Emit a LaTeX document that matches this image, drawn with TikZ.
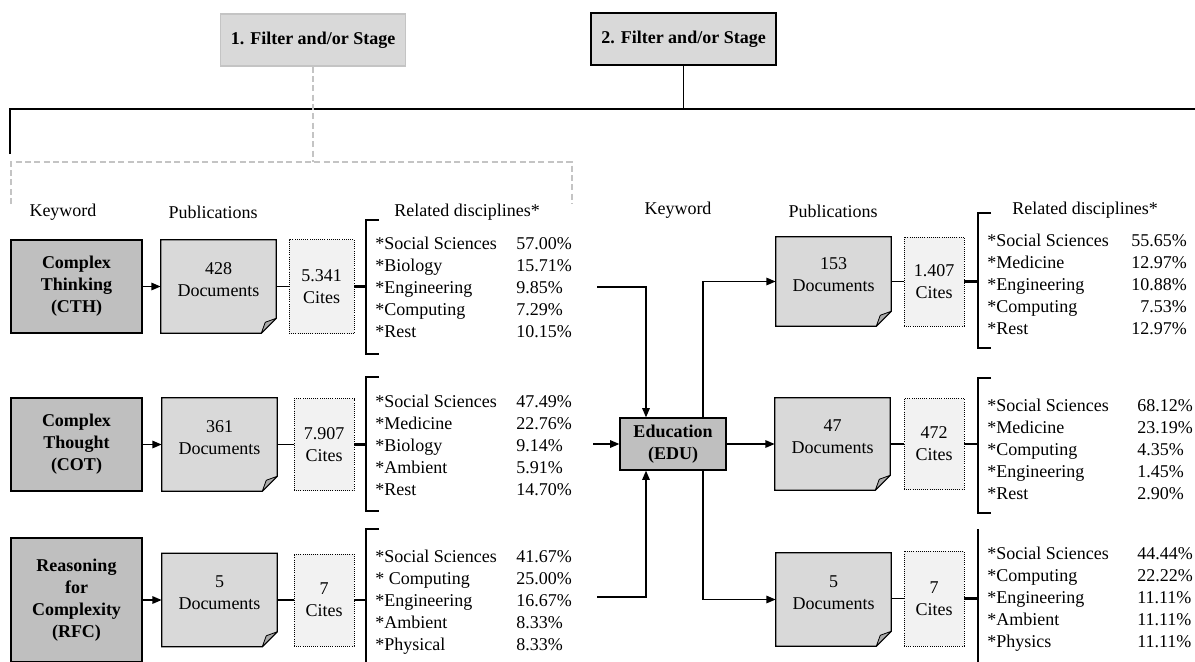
\documentclass[tikz,border=0pt]{standalone}
\usepackage{fontspec}
\setmainfont{Liberation Serif}
\usetikzlibrary{calc,arrows.meta}
\definecolor{keygray}{HTML}{BFBFBF}
\definecolor{docgray}{HTML}{D9D9D9}
\definecolor{citegray}{HTML}{F2F2F2}
\definecolor{foldgray}{HTML}{ABABAB}
\definecolor{dashgray}{HTML}{C4C4C4}
\newcommand\docshape[1]{%
  \filldraw[fill=docgray, line width=0.8pt] (#1.north west) -- (#1.north east) -- ($(#1.south east)+(0,-15)$) -- ($(#1.south east)+(-15,0)$) -- (#1.south west) -- cycle;
  \filldraw[fill=foldgray, line width=0.6pt, line join=round] ($(#1.south east)+(0,-15)$) -- ($(#1.south east)+(-11,-11)$) -- ($(#1.south east)+(-15,0)$) -- cycle;}
% #1 prefix, #2 name x, #3 pct x, #4 first baseline, #5 pct anchor, #6 list
\newcommand\disclist[6]{%
  \foreach \n/\p [count=\i] in {#6} {
    \node[anchor=base west] (#1n\i) at (#2,{#4+22*(\i-1)}) {\n};
    \node[anchor=#5] (#1p\i) at (#3,{#4+22*(\i-1)}) {\p};
  }}
\begin{document}
\begin{tikzpicture}[x=0.75pt,y=-0.75pt,
  every node/.style={font=\fontsize{13.5}{16.5}\selectfont, inner sep=0pt},
  keybox/.style={draw=black, line width=0.8pt, fill=keygray, align=center,
    font=\fontsize{13.5}{16.5}\selectfont\bfseries, minimum width=98.25pt, minimum height=69.75pt},
  docnode/.style={rectangle, minimum width=86.25pt, minimum height=69.75pt},
  doctext/.style={align=center},
  citebox/.style={draw=black, densely dotted, line width=0.6pt, fill=citegray, align=center,
    minimum width=45pt, minimum height=69pt},
  stagebox/.style={fill=docgray, align=center, minimum width=138.5pt, minimum height=39pt,
    font=\fontsize{13.5}{16.5}\selectfont\bfseries},
  edubox/.style={draw=black, line width=0.8pt, fill=keygray, align=center,
    font=\fontsize{13.5}{16.5}\selectfont\bfseries, minimum width=79.5pt, minimum height=39pt},
  header/.style={anchor=center},
  conn/.style={line width=1.4pt},
  arr/.style={line width=1.4pt, -{Triangle[length=7pt,width=5.5pt]}},
  brk/.style={line width=1.6pt},
  stub/.style={line width=2pt},
  topline/.style={line width=1.4pt},
  dashline/.style={draw=dashgray, line width=1pt, dash pattern=on 4.5pt off 2.5pt}
]
\useasboundingbox (0,0) rectangle (1195,661);

% ---------- top stages ----------
\node[stagebox, draw=dashgray, line width=1.1pt] (s1) at (313,40) {1. Filter and/or Stage};
\node[stagebox, draw=black, line width=1.3pt] (s2) at (683.5,39) {2. Filter and/or Stage};
\coordinate (hl) at (10,109);
\coordinate (hr) at (1195,109);
\coordinate (hd) at (10,154);
\draw[topline] (hd) -- (hl) -- (hr);
\draw[topline] (s2.south) -- (s2.south |- hl);
\coordinate (dm) at (313,162);
\coordinate (dl) at (11,204);
\coordinate (dr) at (572,204);
\draw[dashline] (s1.south) -- (dm);
\draw[dashline] (dl) -- (11,162) -- (572,162) -- (dr);

% ---------- headers ----------
\node[header] (hk1) at (63,212) {Keyword};
\node[header] (hp1) at (213,212) {Publications};
\node[header] (hr1) at (467,212) {Related disciplines*};
\node[header] (hk2) at (678,210) {Keyword};
\node[header] (hp2) at (833,211) {Publications};
\node[header] (hr2) at (1085,210) {Related disciplines*};

% ---------- left rows ----------
\node[keybox] (k1) at (76.5,286.5) {Complex\\Thinking\\(CTH)};
\node[keybox] (k2) at (76.5,444.5) {Complex\\Thought\\(COT)};
\node[keybox, minimum height=93pt] (k3) at (76.5,600) {Reasoning\\for\\Complexity\\(RFC)};

\node[docnode] (d1) at (218.5,286.5) {};
\docshape{d1}
\node[doctext] (d1t) at ($(d1.center)+(0,-7)$) {428\\Documents};
\node[docnode] (d2) at (219.5,444.5) {};
\docshape{d2}
\node[doctext] (d2t) at ($(d2.center)+(0,-7)$) {361\\Documents};
\node[docnode] (d3) at (219.5,600) {};
\docshape{d3}
\node[doctext] (d3t) at ($(d3.center)+(0,-7)$) {5\\Documents};

\node[citebox, minimum width=48.75pt, minimum height=70.5pt] (c1) at (321.5,286.5) {5.341\\Cites};
\node[citebox] (c2) at (324,444.5) {7.907\\Cites};
\node[citebox] (c3) at (324,600) {7\\Cites};

\draw[arr] (k1) -- (d1);
\draw[arr] (k2) -- (d2);
\draw[arr] (k3) -- (d3);
\draw[conn] (d1) -- (c1);
\draw[conn] (d2) -- (c2);
\draw[conn] (d3) -- (c3);

\coordinate (b1) at (366,286.5);
\coordinate (b2) at (366,444.5);
\coordinate (b3) at (366,600);
\draw[stub] (c1.east) -- (b1);
\draw[stub] (c2.east) -- (b2);
\draw[stub] (c3.east) -- (b3);
\draw[brk] (379,220) -- (366,220) -- (366,354) -- (379,354);
\draw[brk] (379,377) -- (366,377) -- (366,511) -- (379,511);
\draw[brk] (379,529) -- (366,529) -- (366,665);

\disclist{la}{375}{516}{249}{base west}{*Social Sciences/57.00\%, *Biology/15.71\%, *Engineering/9.85\%, *Computing/7.29\%, *Rest/10.15\%}
\disclist{lb}{375}{516}{407}{base west}{*Social Sciences/47.49\%, *Medicine/22.76\%, *Biology/9.14\%, *Ambient/5.91\%, *Rest/14.70\%}
\disclist{lc}{375}{516}{562}{base west}{*Social Sciences/41.67\%, * Computing/25.00\%, *Engineering/16.67\%, *Ambient/8.33\%, *Physical/8.33\%}

% ---------- education ----------
\node[edubox] (edu) at (673,444) {Education\\(EDU)};
\coordinate (o1) at (597,287);
\coordinate (o2) at (593,444);
\coordinate (o3) at (597,597);
\draw[arr] (o1) -| ($(edu.north)+(-27,0)$);
\draw[arr] (o2) -- (edu.west);
\draw[arr] (o3) -| ($(edu.south)+(-27,0)$);

% ---------- right rows ----------
\node[docnode, minimum height=66.75pt] (rd1) at (833.5,281.5) {};
\docshape{rd1}
\node[doctext] (rd1t) at ($(rd1.center)+(0,-7)$) {153\\Documents};
\node[docnode, minimum height=69pt] (rd2) at (832.5,444) {};
\docshape{rd2}
\node[doctext] (rd2t) at ($(rd2.center)+(0,-7)$) {47\\Documents};
\node[docnode] (rd3) at (833.5,599.5) {};
\docshape{rd3}
\node[doctext] (rd3t) at ($(rd3.center)+(0,-7)$) {5\\Documents};

\node[citebox, minimum height=66.75pt] (rc1) at (934,281.5) {1.407\\Cites};
\node[citebox, minimum height=68.25pt] (rc2) at (934,444) {472\\Cites};
\node[citebox, minimum height=71.25pt] (rc3) at (934,598.5) {7\\Cites};

\draw[arr] ($(edu.north)+(30,0)$) |- (rd1.west);
\draw[arr] (edu) -- (rd2);
\draw[arr] ($(edu.south)+(30,0)$) |- (rd3.west);
\draw[conn] (rd1) -- (rc1);
\draw[conn] (rd2) -- (rc2);
\draw[conn] (rd3.east |- rc3) -- (rc3);

\coordinate (rb1) at (978,281.5);
\coordinate (rb2) at (978,444);
\coordinate (rb3) at (978,598.5);
\draw[stub] (rc1.east) -- (rb1);
\draw[stub] (rc2.east) -- (rb2);
\draw[stub] (rc3.east) -- (rb3);
\draw[brk] (991,213) -- (978,213) -- (978,348) -- (991,348);
\draw[brk] (991,378) -- (978,378) -- (978,513) -- (991,513);
\draw[brk] (978,529) -- (978,665);

\disclist{ra}{987}{1187}{246}{base east}{*Social Sciences/55.65\%, *Medicine/12.97\%, *Engineering/10.88\%, *Computing/7.53\%, *Rest/12.97\%}
\disclist{rb}{987}{1137}{411}{base west}{*Social Sciences/68.12\%, *Medicine/23.19\%, *Computing/4.35\%, *Engineering/1.45\%, *Rest/2.90\%}
\disclist{rc}{987}{1137}{559}{base west}{*Social Sciences/44.44\%, *Computing/22.22\%, *Engineering/11.11\%, *Ambient/11.11\%, *Physics/11.11\%}
\end{tikzpicture}
\end{document}
